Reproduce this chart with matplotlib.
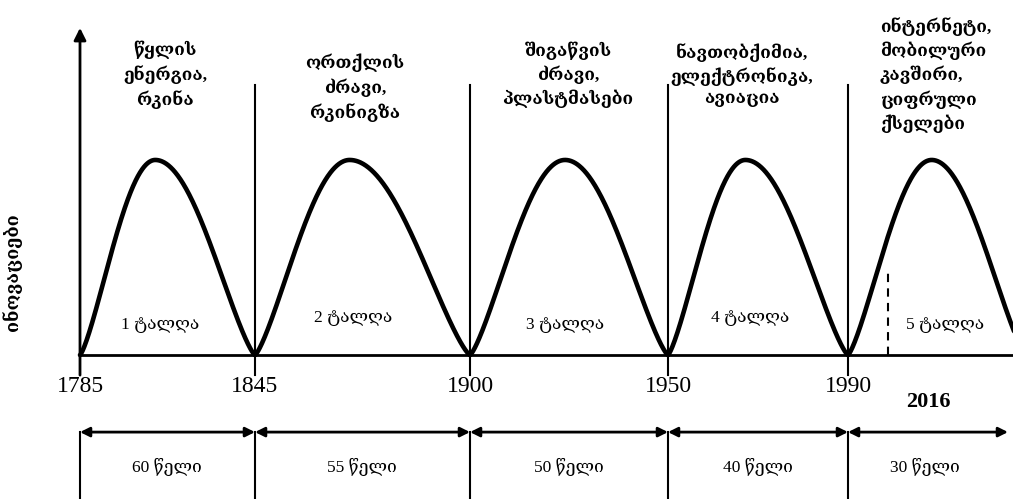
import numpy as np
import matplotlib
matplotlib.use("Agg")
import matplotlib.pyplot as plt

# data
years = [1785, 1845, 1900, 1950, 1990]
year_now = 2016
durations = [60, 55, 50, 40, 30]
wave_names = ["1 ტალღა", "2 ტალღა", "3 ტალღა", "4 ტალღა", "5 ტალღა"]
innovations = [
    "წყლის\nენერგია,\nრკინა",
    "ორთქლის\nძრავი,\nრკინიგზა",
    "შიგაწვის\nძრავი,\nპლასტმასები",
    "ნავთობქიმია,\nელექტრონიკა,\nავიაცია",
    "ინტერნეტი,\nმობილური\nკავშირი,\nციფრული\nქსელები",
]
y_label = "ინოვაციები"
unit = "წელი"

# layout (schematic, not to scale)
bounds = [80, 255, 470, 668, 848, 1026]
peak_frac = [0.43, 0.44, 0.48, 0.43, 0.47]
x_now = 888
ser = ["Liberation Serif", "DejaVu Serif"]

fig = plt.figure(figsize=(10.13, 4.99), dpi=100)
ax = fig.add_axes([0, 0, 1, 1])
ax.set_xlim(0, 1013)
ax.set_ylim(-0.738, 1.82)
ax.axis("off")

# waves
for i in range(5):
    x0, x1 = bounds[i], bounds[i + 1]
    xp = x0 + peak_frac[i] * (x1 - x0)
    x = np.linspace(x0, x1, 400)
    t = np.where(x < xp, (x - x0) / (xp - x0), 1 + (x - xp) / (x1 - xp))
    y = np.sin(np.pi / 2 * t) ** 1.3
    ax.plot(x, y, color="black", lw=3.3, solid_capstyle="round")

# baseline and axis
ax.plot([bounds[0], 1013], [0, 0], color="black", lw=2)
ax.annotate("", xy=(bounds[0], 1.677), xytext=(bounds[0], -0.103),
            arrowprops=dict(arrowstyle="-|>", lw=2, color="black", mutation_scale=18,
                            shrinkA=0, shrinkB=0))
for b in bounds[1:5]:
    ax.plot([b, b], [-0.103, 1.385], color="black", lw=1.5)
ax.plot([x_now, x_now], [0, 0.446], color="black", lw=1.5, ls=(0, (4, 3)))

# labels on top
top_y = [1.436, 1.37, 1.436, 1.436, 1.436]
top_x = [165, 355, 568, 742, 880]
for i, txt in enumerate(innovations):
    ha = "left" if i == 4 else "center"
    ax.text(top_x[i], top_y[i], txt, ha=ha, va="center", fontsize=12.5,
            family=ser, fontweight="bold", linespacing=1.4, multialignment=ha)

wave_x = [160, 353, 565, 750, 945]
wave_y = [0.154, 0.19, 0.154, 0.19, 0.154]
for i, w in enumerate(wave_names):
    ax.text(wave_x[i], wave_y[i], w, ha="center", va="center", fontsize=12.5, family=ser)

ax.text(12, 0.426, y_label, rotation=90, ha="center", va="center", fontsize=13,
        family=ser, fontweight="bold")

# year axis
for i, yr in enumerate(years):
    ax.text(bounds[i], -0.159, str(yr), ha="center", va="center", fontsize=17, family=ser)
ax.text(928, -0.241, str(year_now), ha="center", va="center", fontsize=16, family=ser,
        fontweight="bold")

ay = -0.395
for i in range(4):
    ax.annotate("", xy=(bounds[i + 1], ay), xytext=(bounds[i], ay),
                arrowprops=dict(arrowstyle="<|-|>", lw=2, color="black", mutation_scale=14,
                                shrinkA=0, shrinkB=0))
ax.annotate("", xy=(1008, ay), xytext=(bounds[4], ay),
            arrowprops=dict(arrowstyle="<|-|>", lw=2, color="black", mutation_scale=14,
                            shrinkA=0, shrinkB=0))
for b in bounds[:5]:
    ax.plot([b, b], [ay, -0.738], color="black", lw=1.5)

mids = [167, 362, 569, 758, 925]
for i, d in enumerate(durations):
    ax.text(mids[i], -0.574, f"{d} {unit}", ha="center", va="center", fontsize=12.5, family=ser)

fig.savefig("out.png", dpi=100)
